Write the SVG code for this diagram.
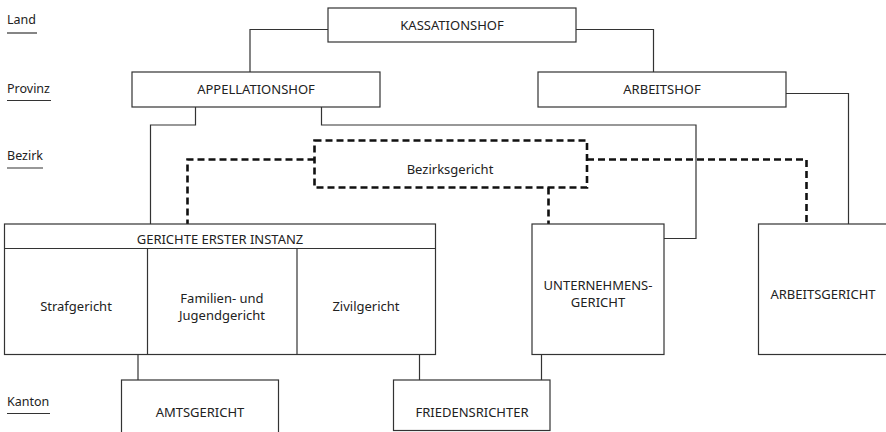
<svg xmlns="http://www.w3.org/2000/svg" width="886" height="432" viewBox="0 0 886 432">
<style>
text{font-family:"Noto Sans","Open Sans","DejaVu Sans",sans-serif;font-size:13px;fill:#222;text-anchor:middle}
.lbl{text-anchor:start;font-size:12.5px}
.box{fill:#fff;stroke:#333;stroke-width:1.2}
.ln{fill:none;stroke:#333;stroke-width:1.2}
.dash{fill:none;stroke:#111;stroke-width:2.6;stroke-dasharray:7 4}
.ul{stroke:#333;stroke-width:1.2}
</style>
<rect width="886" height="432" fill="#fff"/>
<g id="levels">
<text class="lbl" x="7" y="24">Land</text><line class="ul" x1="7" y1="33" x2="37" y2="33"/>
<text class="lbl" x="7" y="93">Provinz</text><line class="ul" x1="7" y1="100.5" x2="51" y2="100.5"/>
<text class="lbl" x="7" y="160">Bezirk</text><line class="ul" x1="7" y1="168" x2="43" y2="168"/>
<text class="lbl" x="7" y="406">Kanton</text><line class="ul" x1="7" y1="413.5" x2="50" y2="413.5"/>
</g>
<g id="connectors">
<polyline class="ln" points="328,29.5 250,29.5 250,72"/>
<polyline class="ln" points="576,29.5 653.5,29.5 653.5,72"/>
<polyline class="ln" points="786,93.5 848.5,93.5 848.5,224"/>
<polyline class="ln" points="195.5,107 195.5,125 150.5,125 150.5,224"/>
<polyline class="ln" points="321.5,107 321.5,125 696,125 696,238.5 664,238.5"/>
<line class="ln" x1="138" y1="354" x2="138" y2="380"/>
<line class="ln" x1="419.5" y1="354" x2="419.5" y2="380"/>
<line class="ln" x1="541.5" y1="354" x2="541.5" y2="380"/>
<polyline class="dash" points="314.5,159.5 187.5,159.5 187.5,224"/>
<polyline class="dash" points="587,159.5 806.5,159.5 806.5,224"/>
<line class="dash" x1="548.5" y1="187.5" x2="548.5" y2="224"/>
</g>
<g id="kassationshof"><rect class="box" x="328" y="8" width="248" height="34"/><text x="452" y="29.5">KASSATIONSHOF</text></g>
<g id="appellationshof"><rect class="box" x="132" y="72" width="248" height="35"/><text x="256" y="93.5">APPELLATIONSHOF</text></g>
<g id="arbeitshof"><rect class="box" x="538" y="72" width="248" height="35"/><text x="662" y="93.5">ARBEITSHOF</text></g>
<g id="bezirksgericht"><rect x="314.5" y="140.5" width="272.5" height="47" fill="#fff" class="dash"/><text x="450" y="173.5">Bezirksgericht</text></g>
<g id="gerichte-erster-instanz">
<rect class="box" x="4.5" y="224" width="431" height="130.5"/>
<line class="ln" x1="4.5" y1="248.5" x2="435.5" y2="248.5"/>
<line class="ln" x1="147.5" y1="248.5" x2="147.5" y2="354.5"/>
<line class="ln" x1="297" y1="248.5" x2="297" y2="354.5"/>
<text x="220" y="244">GERICHTE ERSTER INSTANZ</text>
<text x="76" y="310.5">Strafgericht</text>
<text x="222" y="303">Familien- und</text>
<text x="222" y="319.5">Jugendgericht</text>
<text x="366" y="310.5">Zivilgericht</text>
</g>
<g id="unternehmensgericht"><rect class="box" x="532" y="224" width="132" height="130.5"/><text x="598" y="290">UNTERNEHMENS-</text><text x="598" y="306.5">GERICHT</text></g>
<g id="arbeitsgericht"><rect class="box" x="758.5" y="224" width="140" height="130.5"/><text x="823" y="298.5">ARBEITSGERICHT</text></g>
<g id="amtsgericht"><rect class="box" x="121.5" y="380" width="157" height="60"/><text x="200" y="417">AMTSGERICHT</text></g>
<g id="friedensrichter"><rect class="box" x="393.5" y="380" width="156.5" height="50.5"/><text x="472" y="417">FRIEDENSRICHTER</text></g>
</svg>
